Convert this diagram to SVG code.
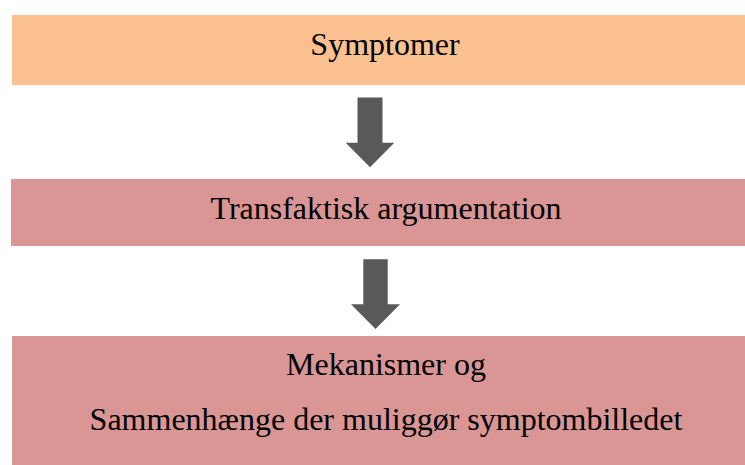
<svg xmlns="http://www.w3.org/2000/svg" width="745" height="465" viewBox="0 0 745 465">
<style>
.t{font-family:"Liberation Serif","Times New Roman",serif;font-size:32px;fill:#000;text-anchor:middle}
.arr{fill:#595959}
</style>
<rect width="745" height="465" fill="#fff"/>
<g id="n1"><rect x="12" y="15" width="733" height="70" fill="#FAC090"/><text class="t" x="385" y="55">Symptomer</text></g>
<g id="n2"><rect x="11" y="179" width="734" height="67" fill="#D99694"/><text class="t" x="386" y="219">Transfaktisk argumentation</text></g>
<g id="n3"><rect x="12" y="336" width="733" height="129" fill="#D99694"/><text class="t" x="386" y="375">Mekanismer og</text><text class="t" x="386" y="430">Sammenhænge der muliggør symptombilledet</text></g>
<g id="connectors">
<polygon class="arr" points="357.5,97.5 382.5,97.5 382.5,142.7 394.3,142.7 370,167.3 345.7,142.7 357.5,142.7"/>
<polygon class="arr" points="363.3,259.3 387.7,259.3 387.7,304.3 400,304.3 375.5,329 351,304.3 363.3,304.3"/>
</g>
</svg>
